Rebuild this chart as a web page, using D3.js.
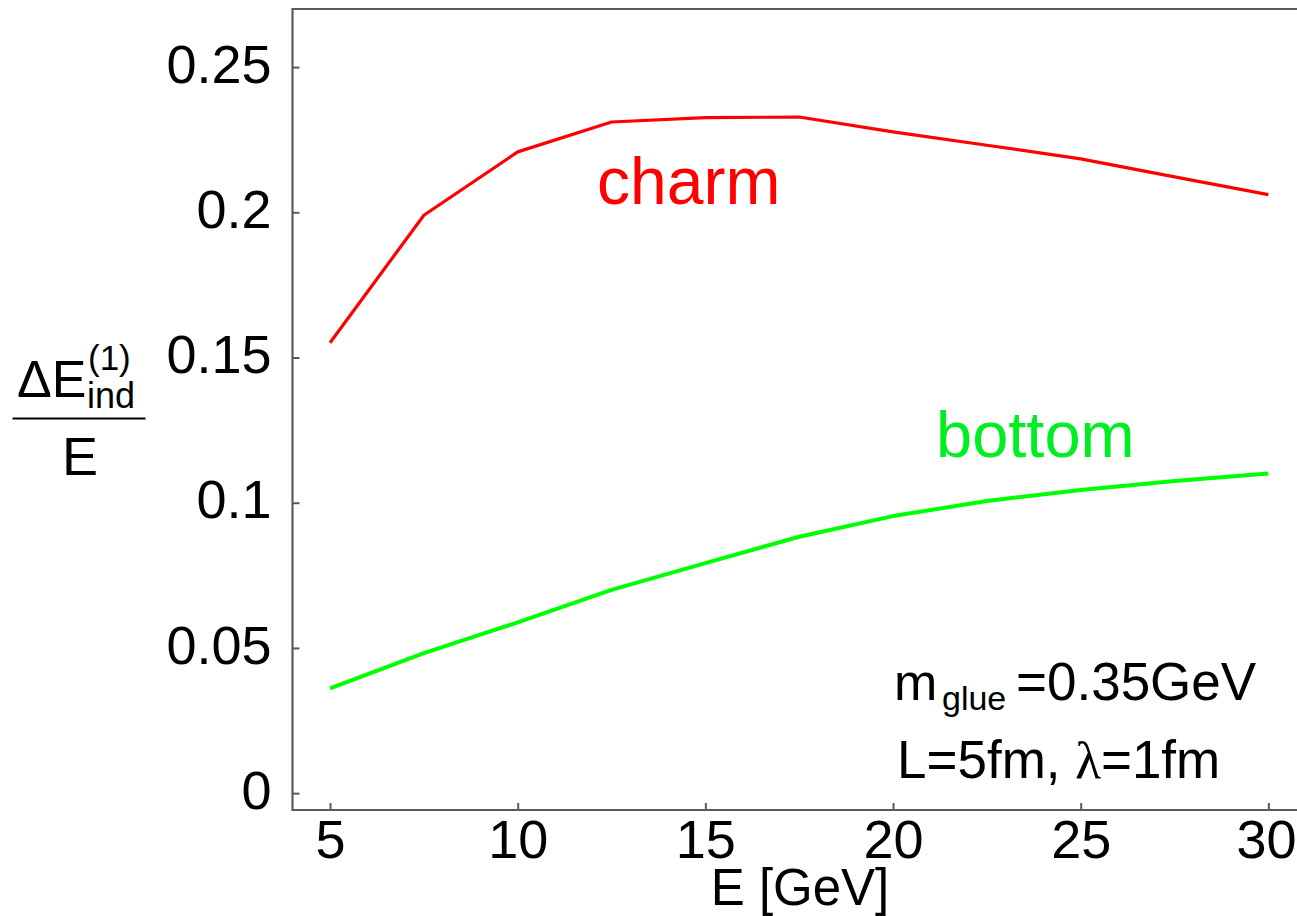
<!DOCTYPE html>
<html>
<head>
<meta charset="utf-8">
<script src="https://cdn.jsdelivr.net/npm/d3@7/dist/d3.min.js"></script>
<style>
  html, body { margin: 0; padding: 0; background: #ffffff; }
  svg { display: block; }
  text { font-family: "Liberation Sans", Arial, Helvetica, sans-serif; fill: #000; }
</style>
</head>
<body>
<script>
// ---- data ----
const energies = [5, 7.5, 10, 12.5, 15, 17.5, 20, 22.5, 25, 27.5, 30];
const charm  = [0.1551, 0.1990, 0.2208, 0.2311, 0.2326, 0.2328, 0.2277, 0.2231, 0.2184, 0.2122, 0.2061];
const bottom = [0.0361, 0.0482, 0.0588, 0.0700, 0.0792, 0.0883, 0.0954, 0.1006, 0.1044, 0.1075, 0.1101];
const xTicks = [5, 10, 15, 20, 25, 30];
const yTicks = [0, 0.05, 0.1, 0.15, 0.2, 0.25];
const yTickLabels = ["0", "0.05", "0.1", "0.15", "0.2", "0.25"];

const W = 1297, H = 916;
const svg = d3.select("body").append("svg").attr("width", W).attr("height", H);

const x = d3.scaleLinear().domain([4, 31]).range([292.5, 1305.9]);
const y = d3.scaleLinear().domain([-0.0058, 0.27]).range([810, 9]);

const axisColor = "#5a5a5a";

// frame (left, top, bottom)
const x0 = x.range()[0], x1 = x.range()[1];
const yb = y.range()[0], yt = y.range()[1];
svg.append("path")
  .attr("d", `M${x1},${yt}H${x0}V${yb}H${x1}`)
  .attr("fill", "none").attr("stroke", axisColor).attr("stroke-width", 2.2);

// y axis
const yAxis = d3.axisLeft(y).tickValues(yTicks)
  .tickFormat((d, i) => yTickLabels[i])
  .tickSizeInner(-7).tickSizeOuter(0).tickPadding(21);
const gy = svg.append("g").attr("transform", `translate(${x0},0)`).call(yAxis);
gy.select(".domain").remove();
gy.selectAll(".tick line").attr("stroke", axisColor).attr("stroke-width", 2);
gy.selectAll(".tick text").attr("font-size", 54).attr("dy", "0.28em")
  .style("font-family", "'Liberation Sans', Arial, sans-serif").attr("fill", "#000");

// x axis
const xAxis = d3.axisBottom(x).tickValues(xTicks).tickFormat(d3.format("d"))
  .tickSizeInner(-7).tickSizeOuter(0).tickPadding(10);
const gx = svg.append("g").attr("transform", `translate(0,${yb})`).call(xAxis);
gx.select(".domain").remove();
gx.selectAll(".tick line").attr("stroke", axisColor).attr("stroke-width", 2);
gx.selectAll(".tick text").attr("font-size", 54)
  .style("font-family", "'Liberation Sans', Arial, sans-serif").attr("fill", "#000");
// keep the last label inside the picture
gx.selectAll(".tick text").filter(d => d === 30)
  .attr("text-anchor", "end").attr("x", W - 1 - x(30));

// x axis title
svg.append("text").attr("x", 800).attr("y", 905).attr("text-anchor", "middle")
  .attr("font-size", 51).text("E [GeV]");

// y axis title (fraction)
const yl = svg.append("g");
yl.append("text").attr("x", 17).attr("y", 397).attr("font-size", 52).text("ΔE");
yl.append("text").attr("x", 88).attr("y", 370).attr("font-size", 35).text("(1)");
yl.append("text").attr("x", 87).attr("y", 408).attr("font-size", 36).text("ind");
yl.append("line").attr("x1", 12.5).attr("x2", 145.5).attr("y1", 418.5).attr("y2", 418.5)
  .attr("stroke", "#000").attr("stroke-width", 2);
yl.append("text").attr("x", 80).attr("y", 475).attr("text-anchor", "middle")
  .attr("font-size", 54).text("E");

// lines
const line = (vals) => d3.line()
  .x((d, i) => x(energies[i]))
  .y(d => y(d))
  .curve(d3.curveLinear)(vals);

svg.append("path").attr("d", line(charm)).attr("fill", "none")
  .attr("stroke", "#ff0000").attr("stroke-width", 3.2).attr("stroke-linejoin", "round");
svg.append("path").attr("d", line(bottom)).attr("fill", "none")
  .attr("stroke", "#00ff00").attr("stroke-width", 4).attr("stroke-linejoin", "round");

// curve labels
svg.append("text").attr("x", 597).attr("y", 204).attr("font-size", 66)
  .style("fill", "#ff0000").text("charm");
svg.append("text").attr("x", 936).attr("y", 457).attr("font-size", 65)
  .style("fill", "#00ee22").text("bottom");

// parameter annotation
const ann = svg.append("g");
ann.append("text").attr("x", 894).attr("y", 700).attr("font-size", 52).text("m");
ann.append("text").attr("x", 942).attr("y", 710).attr("font-size", 34).text("glue");
ann.append("text").attr("x", 1016).attr("y", 700).attr("font-size", 53).text("=0.35GeV");

const l2 = ann.append("text").attr("x", 897).attr("y", 778).attr("font-size", 53);
l2.append("tspan").text("L=5fm, ");
l2.append("tspan").style("font-family", "'Liberation Serif', 'Times New Roman', serif").text("λ");
l2.append("tspan").text("=1fm");
</script>
</body>
</html>
